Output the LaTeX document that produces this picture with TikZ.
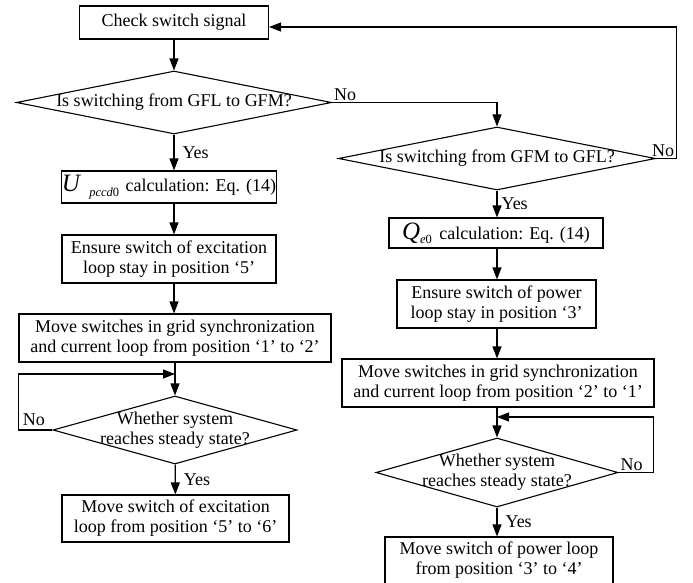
\documentclass[tikz,border=0pt]{standalone}
\usepackage{fontspec}
\setmainfont{Liberation Serif}
\usetikzlibrary{shapes,arrows.meta,positioning,calc}

\begin{document}
\begin{tikzpicture}[x=1pt, y=-1pt,
    line width=1.1pt,
    font=\fontsize{18}{20}\selectfont,
    box/.style={draw, align=center, inner sep=0pt},
    decision/.style={draw, diamond, inner sep=0pt},
    arrow/.style={-{Triangle[length=12pt,width=9pt]}},
    tag/.style={inner sep=1.5pt}]

  \useasboundingbox (0,0) rectangle (693,583);

  % left branch
  \node[box, minimum width=189pt, minimum height=33pt] (check) at (174,22.5) {Check switch signal};
  \node[decision, minimum width=315pt, minimum height=63pt,
        label={[name=dec1txt]center:Is switching from GFL to GFM?}] (dec1) at (174,102.5) {};
  \node[box, minimum width=214pt, minimum height=32pt] (calcU) at (169,187)
       {{\fontsize{25}{25}\selectfont\textit{U}}\hspace{8pt}\raisebox{-5pt}{\fontsize{12.5}{12.5}\selectfont\textit{pccd}0}\hspace{2pt} calculation: Eq. (14)};
  \node[box, minimum width=214pt, minimum height=48pt] (ensE) at (169,259)
       {Ensure switch of excitation\\loop stay in position `5'};
  \node[box, minimum width=312pt, minimum height=48pt] (moveL) at (175,338)
       {Move switches in grid synchronization\\and current loop from position `1' to `2'};
  \node[decision, minimum width=244pt, minimum height=68pt,
        label={[name=dec3txt, align=center]center:{Whether system\\reaches steady state?}}] (dec3) at (175,430) {};
  \node[box, minimum width=227pt, minimum height=47pt] (finL) at (175.5,518.5)
       {Move switch of excitation\\loop from position `5' to `6'};

  % right branch
  \node[decision, minimum width=317pt, minimum height=63pt,
        label={[name=dec2txt]center:Is switching from GFM to GFL?}] (dec2) at (497,158.5) {};
  \node[box, minimum width=214pt, minimum height=30pt] (calcQ) at (496,233)
       {{\fontsize{25}{25}\selectfont\textit{Q}}\raisebox{-4pt}{\fontsize{12.5}{12.5}\selectfont\textit{e}0}\hspace{3pt} calculation: Eq. (14)};
  \node[box, minimum width=199pt, minimum height=48pt] (ensP) at (496.5,304)
       {Ensure switch of power\\loop stay in position `3'};
  \node[box, minimum width=312pt, minimum height=48pt] (moveR) at (498,383)
       {Move switches in grid synchronization\\and current loop from position `2' to `1'};
  \node[decision, minimum width=242pt, minimum height=69pt,
        label={[name=dec4txt, align=center]center:{Whether system\\reaches steady state?}}] (dec4) at (497,472.5) {};
  \node[box, minimum width=228pt, minimum height=47pt] (finR) at (499,560.5)
       {Move switch of power loop\\from position `3' to `4'};

  \coordinate (colL) at (174,0);
  \coordinate (joinL) at (175,374);
  \coordinate (joinR) at (497,417);

  \draw[arrow] (check) -- (dec1);
  \draw[arrow] (dec1) -- node[right, inner sep=8pt] (yes1) {Yes} (calcU.north -| colL);
  \draw[arrow] (calcU.south -| colL) -- (ensE.north -| colL);
  \draw[arrow] (ensE.south -| colL) -- (moveL.north -| colL);
  \draw[arrow] (moveL) -- (dec3);
  \draw[arrow] (dec3) -- node[right, inner sep=8pt] (yes3) {Yes} (finL);
  \draw[arrow] (dec3.west) -- ++(-34,0) node[above right, inner sep=4pt] (no3) {No} |- (joinL);

  \draw[arrow] (dec1.east) node[above right, tag] (no1) {No} -| (dec2.north);
  \draw[arrow] (dec2.east) -- ++(20,0) node[above left, tag] (no2) {No} |- ([yshift=-4.5pt]check.east);
  \draw[arrow] (dec2) -- node[right, inner sep=4pt] (yes2) {Yes} (dec2.south |- calcQ.north);
  \draw[arrow] (dec2.south |- calcQ.south) -- (dec2.south |- ensP.north);
  \draw[arrow] (dec2.south |- ensP.south) -- (dec2.south |- moveR.north);
  \draw[arrow] (dec2.south |- moveR.south) -- (dec4);
  \draw[arrow] (dec4) -- node[right, inner sep=8pt] (yes4) {Yes} (dec4.south |- finR.north);
  \draw[arrow] (dec4.east) node[above right, tag] (no4) {No} -- ++(35,0) |- (joinR);
\end{tikzpicture}
\end{document}
